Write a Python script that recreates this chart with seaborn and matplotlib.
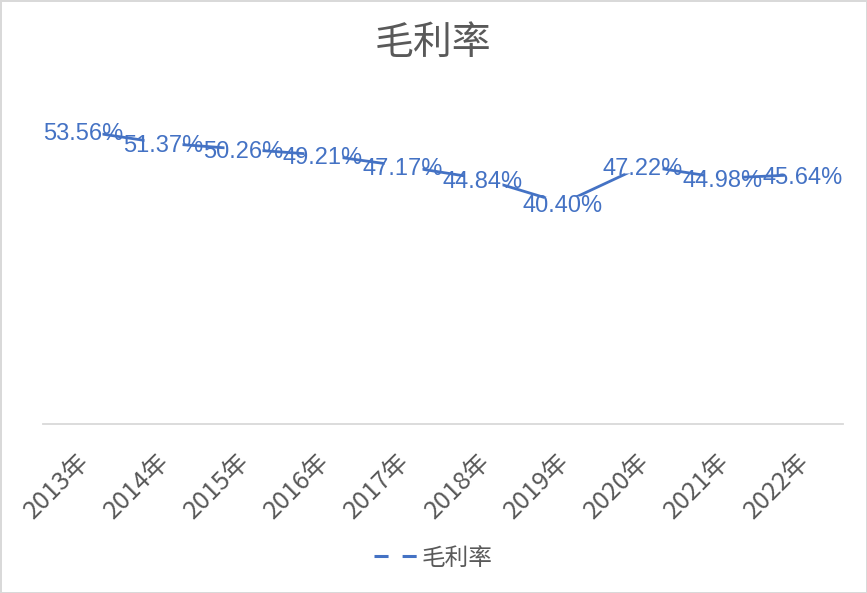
import matplotlib
matplotlib.use("Agg")
import matplotlib.pyplot as plt
import matplotlib.transforms as mtransforms
from matplotlib.lines import Line2D
from matplotlib.path import Path
import pandas as pd
import seaborn as sns

# data
years = ["2013年", "2014年", "2015年", "2016年", "2017年",
         "2018年", "2019年", "2020年", "2021年", "2022年"]
gross_margin = [53.56, 51.37, 50.26, 49.21, 47.17, 44.84, 40.40, 47.22, 44.98, 45.64]
series_name = "毛利率"

BLUE = "#4472C4"
GRAY = "#595959"
AXIS_GRAY = "#D9D9D9"

sns.set_style("white")
plt.rcParams["font.family"] = ["Noto Sans CJK SC", "DejaVu Sans"]

df = pd.DataFrame({"year": years, "margin": gross_margin})
pos = list(range(len(years)))

fig = plt.figure(figsize=(8.67, 5.93), dpi=100)
fig.patch.set_edgecolor(AXIS_GRAY)
fig.patch.set_linewidth(2)
ax = fig.add_axes([43 / 867, 1 - 424 / 593, 800 / 867, (424 - 96) / 593])

sns.lineplot(data=df, x="year", y="margin", ax=ax, color=BLUE, linewidth=2.0,
             sort=False, zorder=2)

# white box behind each data label hides the line near the point (like Excel)
mask = Path([(-19, -7), (19, -7), (19, 7), (-19, 7), (-19, -7)])
ax.plot(pos, gross_margin, linestyle="none", marker=mask, markersize=38 * 0.72,
        markerfacecolor="white", markeredgecolor="none", zorder=3)

label_shift = mtransforms.ScaledTranslation(0, -3 / 100, fig.dpi_scale_trans)
for i, v in enumerate(gross_margin):
    ax.text(i, v, f"{v:.2f}%", ha="center", va="center", color=BLUE,
            fontsize=17, family=["Liberation Sans", "DejaVu Sans"], zorder=4,
            transform=ax.transData + label_shift)

ax.set_xlim(-0.5, len(years) - 0.5)
ax.set_ylim(0, 60)
ax.set_xlabel("")
ax.set_ylabel("")
ax.set_yticks([])
for side in ["top", "right", "left"]:
    ax.spines[side].set_visible(False)
ax.spines["bottom"].set_color(AXIS_GRAY)
ax.spines["bottom"].set_linewidth(1.3)

ax.tick_params(axis="x", length=0, pad=24, labelsize=18, labelcolor=GRAY)
offset = mtransforms.ScaledTranslation(3 / 100, 0, fig.dpi_scale_trans)
for lbl in ax.get_xticklabels():
    lbl.set_rotation(45)
    lbl.set_ha("right")
    lbl.set_va("center")
    lbl.set_rotation_mode("anchor")
    lbl.set_transform(lbl.get_transform() + offset)

fig.text(0.5, 1 - 43 / 593, series_name, ha="center", va="center",
         fontsize=28, color=GRAY)

handle = Line2D([], [], color=BLUE, linewidth=2.2, linestyle=(0, (4.6, 4.6)))
fig.legend([handle], [series_name], loc="center", bbox_to_anchor=(0.5, 1 - 558 / 593),
           frameon=False, fontsize=17, labelcolor=GRAY, handlelength=1.85,
           handletextpad=0.15)

fig.savefig("out.png", dpi=100, edgecolor=fig.get_edgecolor())
